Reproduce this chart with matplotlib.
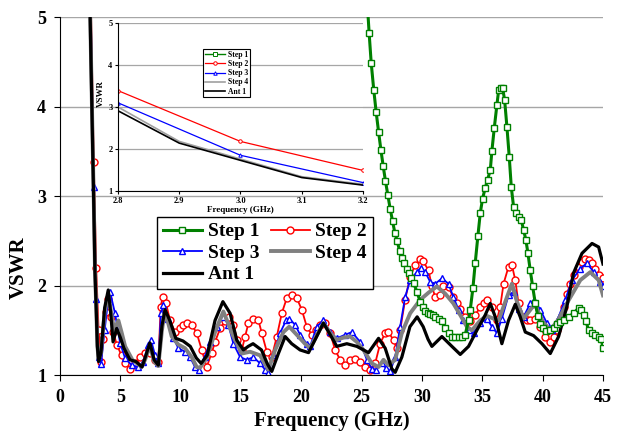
import matplotlib as mpl
mpl.use('Agg')
import matplotlib.pyplot as plt

plt.rcParams['font.family'] = 'Liberation Serif'
plt.rcParams['font.weight'] = 'bold'

# ---- main chart data (frequency in GHz, VSWR) ----
step1_f = [25.0, 25.4, 25.62, 25.79, 26.0, 26.2, 26.4, 26.6, 26.78, 26.97, 27.17, 27.36, 27.56,
           27.75, 27.94, 28.14, 28.33, 28.52, 28.72, 28.91, 29.1, 29.3, 29.58, 29.85, 30.07,
           30.27, 30.49, 30.68, 30.9, 31.1, 31.37, 31.65, 31.92, 32.2, 32.48, 32.75, 33.03,
           33.3, 33.58, 33.86, 34.0, 34.22, 34.41, 34.63, 34.83, 35.02, 35.24, 35.43, 35.66,
           35.79, 35.99, 36.21, 36.35, 36.54, 36.68, 36.85, 37.04, 37.23, 37.4, 37.59, 37.78,
           38.0, 38.23, 38.42, 38.61, 38.78, 38.97, 39.17, 39.39, 39.6, 39.8, 40.0, 40.3,
           40.6, 40.9, 41.2, 41.45, 41.74, 42.15, 42.57, 42.98, 43.17, 43.39, 43.59, 43.81,
           44.09, 44.36, 44.64, 44.86, 45.0]
step1_v = [6.5, 5.3, 4.82, 4.49, 4.19, 3.94, 3.72, 3.51, 3.34, 3.17, 3.01, 2.86, 2.72,
           2.59, 2.50, 2.39, 2.31, 2.25, 2.19, 2.14, 2.08, 2.03, 1.93, 1.82, 1.76,
           1.71, 1.69, 1.68, 1.67, 1.65, 1.63, 1.60, 1.52, 1.47, 1.42, 1.42, 1.42,
           1.42, 1.45, 1.61, 1.73, 1.97, 2.25, 2.55, 2.81, 2.97, 3.09, 3.18, 3.29,
           3.50, 3.76, 4.02, 4.18, 4.21, 4.21, 4.07, 3.77, 3.44, 3.10, 2.88, 2.81,
           2.77, 2.73, 2.62, 2.51, 2.36, 2.17, 1.99, 1.80, 1.66, 1.57, 1.52, 1.49,
           1.50, 1.53, 1.57, 1.59, 1.61, 1.65, 1.69, 1.75, 1.73, 1.67, 1.60, 1.50,
           1.47, 1.45, 1.43, 1.40, 1.30]

step2_f = [2.5, 2.8, 3.0, 3.2, 3.4, 3.6, 3.8, 4.0, 4.2, 4.42, 4.7, 5.1, 5.4, 5.8, 6.2,
           6.63, 7.05, 7.46, 7.88, 8.15, 8.35, 8.5, 8.79, 9.12, 9.54, 9.95, 10.2, 10.5, 10.92,
           11.33, 11.75, 12.16, 12.58, 12.85, 13.27, 13.68, 14.04, 14.37, 14.7, 15.07, 15.34,
           15.62, 16.03, 16.45, 16.72, 17.14, 17.55, 17.97, 18.38, 18.8, 19.2, 19.62, 20.04,
           20.45, 20.87, 21.2, 21.56, 21.97, 22.39, 22.8, 23.22, 23.63, 24.05, 24.46, 24.88,
           25.29, 25.7, 26.12, 26.53, 26.95, 27.22, 27.64, 27.9, 28.19, 28.6, 29.02, 29.44,
           29.85, 30.1, 30.54, 30.82, 31.1, 31.5, 31.78, 32.2, 32.6, 32.9, 33.17, 33.58, 34.0,
           34.41, 34.83, 35.1, 35.38, 35.8, 36.2, 36.48, 36.76, 37.17, 37.45, 37.73, 38.0, 38.42,
           38.7, 38.97, 39.39, 39.8, 40.22, 40.63, 40.9, 41.18, 41.45, 41.73, 42.0, 42.29, 42.6,
           42.98, 43.25, 43.53, 43.8, 44.09, 44.35, 44.64, 45.0]
step2_v = [5.6, 3.38, 2.2, 1.5, 1.15, 1.4, 1.7, 1.85, 1.65, 1.48, 1.34, 1.22, 1.13, 1.07, 1.13,
           1.20, 1.25, 1.25, 1.17, 1.15, 1.76, 1.87, 1.80, 1.61, 1.48, 1.52, 1.56, 1.58, 1.56,
           1.47, 1.28, 1.09, 1.25, 1.37, 1.52, 1.60, 1.65, 1.56, 1.39, 1.28, 1.43,
           1.58, 1.63, 1.61, 1.47, 1.26, 1.20, 1.43, 1.69, 1.86, 1.89, 1.86, 1.73,
           1.54, 1.45, 1.50, 1.56, 1.58, 1.47, 1.28, 1.17, 1.11, 1.17, 1.18, 1.15,
           1.09, 1.06, 1.13, 1.35, 1.47, 1.48, 1.39, 1.30, 1.50, 1.84, 2.10, 2.23,
           2.30, 2.27, 2.17, 1.99, 1.87, 1.89, 1.99, 1.98, 1.87, 1.80, 1.74, 1.65, 1.60,
           1.67, 1.76, 1.81, 1.84, 1.76, 1.61, 1.76, 2.02, 2.21, 2.23, 2.06, 1.80, 1.65,
           1.62, 1.61, 1.63, 1.54, 1.43, 1.37, 1.42, 1.50, 1.62, 1.76, 1.90, 2.02, 2.12,
           2.21, 2.26, 2.30, 2.29, 2.25, 2.19, 2.12, 2.08]

step3_f = [2.5, 2.8, 3.0, 3.2, 3.4, 3.7, 4.0, 4.15, 4.56, 4.98, 5.39, 5.94, 6.5, 6.9, 7.33,
           7.55, 7.88, 8.15, 8.37, 8.57, 8.98, 9.4, 9.81, 10.36, 10.78, 11.19, 11.55, 12.0,
           12.44, 12.99, 13.54, 13.96, 14.37, 14.93, 15.48, 16.03, 16.58, 17.0, 17.27, 17.69,
           18.24, 18.74, 19.01, 19.49, 19.9, 20.45, 20.73, 21.28, 21.83, 22.39, 22.94, 23.63,
           24.19, 24.88, 25.43, 25.84, 26.2, 26.67, 27.0, 27.36, 27.78, 28.19, 28.6, 29.02,
           29.58, 29.9, 30.27, 30.68, 31.1, 31.65, 32.2, 32.6, 33.03, 33.44, 33.86, 34.27,
           34.83, 35.38, 35.8, 36.2, 36.62, 37.17, 37.59, 38.0, 38.42, 38.97, 39.3, 39.8,
           40.35, 40.77, 41.32, 41.87, 42.43, 43.12, 43.67, 44.23, 44.78, 45.0]
step3_v = [5.5, 3.1, 1.85, 1.2, 1.12, 1.5, 1.85, 1.93, 1.69, 1.36, 1.19, 1.11, 1.09, 1.15, 1.34,
           1.39, 1.22, 1.13, 1.69, 1.78, 1.63, 1.41, 1.30, 1.26, 1.20, 1.09, 1.06, 1.20,
           1.37, 1.54, 1.65, 1.56, 1.35, 1.20, 1.17, 1.20, 1.13, 1.06, 1.02, 1.22,
           1.47, 1.61, 1.63, 1.56, 1.45, 1.35, 1.32, 1.54, 1.61, 1.48, 1.41, 1.45,
           1.48, 1.37, 1.17, 1.07, 1.06, 1.13, 1.08, 1.04, 1.20, 1.54, 1.87, 2.06,
           2.15, 2.20, 2.15, 2.04, 2.02, 2.08, 2.02, 1.87, 1.73, 1.61, 1.50, 1.47,
           1.58, 1.63, 1.54, 1.47, 1.63, 1.89, 1.93, 1.74, 1.65, 1.80, 1.84, 1.73,
           1.58, 1.50, 1.65, 1.84, 2.06, 2.19, 2.25, 2.15, 2.04, 2.00]

step4_f = [2.4, 2.5, 2.6, 2.7, 2.8, 2.9, 3.0, 3.1, 3.2, 3.4, 3.7, 4.0, 4.3, 4.5, 4.84, 5.1,
           5.4, 6.0, 6.77, 7.05, 7.45, 7.8, 8.15, 8.45, 8.7, 9.26, 9.81, 10.36, 10.92, 11.33,
           11.6, 12.2, 12.9, 13.54, 14.37, 15.07, 15.75, 16.58, 17.27, 17.83, 18.52, 19.0,
           19.62, 20.3, 20.73, 21.3, 21.83, 22.4, 22.94, 23.5, 24.05, 24.6, 25.15, 25.84,
           26.4, 26.81, 27.22, 27.78, 28.33, 29.02, 29.85, 30.54, 31.23, 31.92, 32.6, 33.17,
           33.72, 34.14, 34.83, 35.38, 35.93, 36.35, 37.04, 37.45, 37.87, 38.42, 39.1, 39.4,
           40.0, 40.63, 41.3, 42.0, 43.12, 43.95, 44.64, 45.0]
step4_v = [5.8, 5.05, 4.35, 3.65, 2.95, 2.18, 1.78, 1.33, 1.17, 1.25, 1.70, 1.90, 1.65, 1.50, 1.61, 1.48,
           1.32, 1.17, 1.09, 1.17, 1.33, 1.15, 1.10, 1.50, 1.72, 1.43, 1.34, 1.30, 1.20, 1.09,
           1.08, 1.20, 1.50, 1.71, 1.43, 1.24, 1.26, 1.22, 1.06, 1.28, 1.48, 1.54,
           1.45, 1.35, 1.30, 1.45, 1.58, 1.47, 1.39, 1.42, 1.43, 1.37, 1.28, 1.13,
           1.09, 1.17, 1.11, 1.17, 1.47, 1.69, 1.84, 1.92, 1.99, 1.91, 1.80, 1.67,
           1.54, 1.50, 1.61, 1.66, 1.63, 1.61, 1.87, 2.02, 1.82, 1.63, 1.75, 1.78,
           1.60, 1.50, 1.62, 1.80, 2.06, 2.15, 2.06, 1.89]

ant1_f = [2.4, 2.5, 2.6, 2.7, 2.8, 2.9, 3.0, 3.1, 3.2, 3.4, 3.7, 4.0, 4.2, 4.4, 4.7, 5.0,
          5.3, 5.8, 6.3, 6.8, 7.05, 7.45, 7.8, 8.15, 8.45, 8.71, 9.1, 9.6, 10.2, 10.8,
          11.3, 11.7, 12.2, 12.85, 13.5, 14.1, 14.65, 15.2, 15.6, 16.0, 16.7, 17.2, 17.55,
          18.1, 18.66, 19.2, 19.9, 20.6, 21.2, 21.83, 22.4, 22.94, 23.77, 24.6, 25.57,
          26.4, 26.95, 27.5, 27.78, 28.33, 29.0, 29.6, 30.1, 30.5, 30.82, 31.65, 32.48,
          33.17, 33.86, 34.55, 35.24, 35.66, 36.07, 36.62, 37.17, 37.73, 38.14, 38.56,
          39.25, 39.94, 40.63, 41.32, 42.0, 42.56, 43.26, 44.09, 44.64, 45.0]
ant1_v = [5.8, 5.0, 4.3, 3.6, 2.9, 2.15, 1.75, 1.32, 1.15, 1.25, 1.75, 1.95, 1.70, 1.37, 1.52, 1.42,
          1.30, 1.17, 1.15, 1.09, 1.19, 1.36, 1.17, 1.11, 1.55, 1.73, 1.61, 1.41, 1.38, 1.32,
          1.19, 1.13, 1.22, 1.61, 1.82, 1.69, 1.39, 1.28, 1.32, 1.35, 1.28, 1.12, 1.04,
          1.24, 1.43, 1.35, 1.28, 1.25, 1.41, 1.58, 1.45, 1.32, 1.35, 1.32, 1.25,
          1.41, 1.30, 1.07, 1.03, 1.20, 1.54, 1.65, 1.54, 1.40, 1.32, 1.43, 1.32,
          1.23, 1.32, 1.50, 1.67, 1.80, 1.65, 1.35, 1.61, 1.79, 1.65, 1.48,
          1.44, 1.35, 1.24, 1.43, 1.76, 2.14, 2.36, 2.47, 2.43, 2.24]

# ---- inset data (2.8 - 3.2 GHz) ----
in_f_coarse = [2.8, 3.0, 3.2]
in_f_fine = [2.8, 2.9, 3.0, 3.1, 3.2]
in_step2 = [3.39, 2.18, 1.49]
in_step3 = [3.10, 1.85, 1.20]
in_step4 = [3.00, 2.18, 1.76, 1.34, 1.16]
in_ant1 = [2.91, 2.14, 1.73, 1.32, 1.14]

fig = plt.figure(figsize=(6.17, 4.32), dpi=100)
ax = fig.add_axes([0.0972, 0.1319, 0.8801, 0.8287])

ax.plot(step2_f, step2_v, color='#ff0000', lw=1.3, marker='o', ms=5, mfc='white', mec='#ff0000', mew=1.0, label='Step 2')
ax.plot(step3_f, step3_v, color='#0000ff', lw=1.3, marker='^', ms=5, mfc='white', mec='#0000ff', mew=1.0, label='Step 3')
ax.plot(step4_f, step4_v, color='#808080', lw=2.8, label='Step 4')
ax.plot(ant1_f, ant1_v, color='black', lw=2.3, label='Ant 1')
ax.plot(step1_f, step1_v, color='#008000', lw=2.2, marker='s', ms=4.5, mfc='white', mec='#008000', mew=1.0, label='Step 1')

ax.set_xlim(0, 45)
ax.set_ylim(1, 5)
ax.set_xticks(range(0, 46, 5))
ax.set_yticks([1, 2, 3, 4, 5])
ax.yaxis.grid(True, color='#a6a6a6', lw=1.0)
ax.set_axisbelow(True)
for s in ['top', 'right']:
    ax.spines[s].set_visible(False)
ax.tick_params(axis='both', direction='out', length=4, labelsize=13, pad=6)
for lab in ax.get_xticklabels() + ax.get_yticklabels():
    lab.set_fontweight('bold')
ax.set_xlabel('Frequency (GHz)', fontsize=15, fontweight='bold', labelpad=4)
ax.set_ylabel('VSWR', fontsize=15, fontweight='bold')
ax.yaxis.set_label_coords(-0.058, 0.30)

h, l = ax.get_legend_handles_labels()
order = [4, 1, 3, 0, 2]
leg = ax.legend([h[i] for i in order], [l[i] for i in order], ncol=2, loc='upper left',
                bbox_to_anchor=(0.1786, 0.4413), borderaxespad=0, fancybox=False,
                edgecolor='black', framealpha=1, prop={'size': 14, 'weight': 'bold'},
                handlelength=2.0, handletextpad=0.3, columnspacing=0.6, labelspacing=0.2,
                borderpad=0.3)
leg.get_frame().set_linewidth(1.0)

# ---- inset ----
axi = fig.add_axes([0.1912, 0.5579, 0.3971, 0.3889])
axi.set_facecolor('white')
axi.plot(in_f_coarse, in_step2, color='#ff0000', lw=0.9, marker='o', ms=2.5, mfc='white', mec='#ff0000', mew=0.7, label='Step 2')
axi.plot(in_f_coarse, in_step3, color='#0000ff', lw=0.9, marker='^', ms=2.5, mfc='white', mec='#0000ff', mew=0.7, label='Step 3')
axi.plot(in_f_fine, in_step4, color='#a0a0a0', lw=1.2, label='Step 4')
axi.plot(in_f_fine, in_ant1, color='black', lw=1.2, label='Ant 1')
axi.plot([], [], color='#008000', lw=1.0, marker='s', ms=2.5, mfc='white', mec='#008000', mew=0.7, label='Step 1')
axi.set_xlim(2.8, 3.2)
axi.set_ylim(1, 5)
axi.set_xticks([2.8, 2.9, 3.0, 3.1, 3.2])
axi.set_xticklabels(['2.8', '2.9', '3.0', '3.1', '3.2'])
axi.set_yticks([1, 2, 3, 4, 5])
axi.yaxis.grid(True, color='#a6a6a6', lw=0.9)
axi.set_axisbelow(True)
for s in ['top', 'right']:
    axi.spines[s].set_visible(False)
axi.tick_params(axis='both', direction='out', length=2.5, labelsize=6, pad=1.5, width=0.8)
for lab in axi.get_xticklabels() + axi.get_yticklabels():
    lab.set_fontweight('bold')
axi.set_xlabel('Frequency (GHz)', fontsize=6.5, fontweight='bold', labelpad=1)
axi.set_ylabel('VSWR', fontsize=6.5, fontweight='bold')
axi.yaxis.set_label_coords(-0.052, 0.58)
hi, li = axi.get_legend_handles_labels()
oi = [4, 0, 1, 2, 3]
legi = axi.legend([hi[i] for i in oi], [li[i] for i in oi], loc='upper left',
                  bbox_to_anchor=(0.347, 0.845), borderaxespad=0, fancybox=False,
                  edgecolor='black', framealpha=1, prop={'size': 5.5, 'weight': 'bold'},
                  handlelength=2.6, handletextpad=0.4, labelspacing=0.15, borderpad=0.25)
legi.get_frame().set_linewidth(0.8)

fig.savefig('out.png', dpi=100)
